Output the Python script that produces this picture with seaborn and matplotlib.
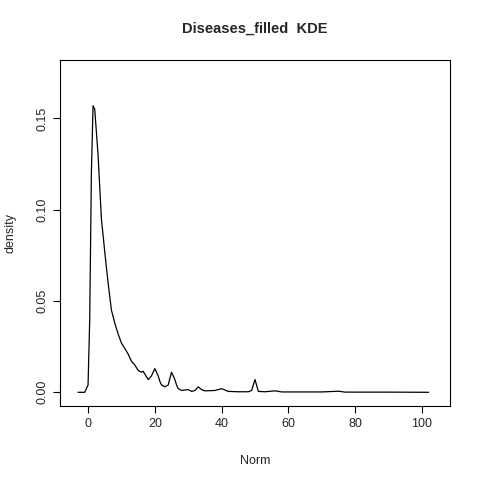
import numpy as np
import pandas as pd
import seaborn as sns
import matplotlib
matplotlib.use("Agg")
import matplotlib.pyplot as plt

# density curve
norm = [-3, -1, 0, 0.5, 1, 1.5, 2, 3, 4, 5, 6, 7, 8, 9, 10, 11, 12, 13, 14, 15, 16, 16.5, 17, 18, 19, 20,
        21, 21.5, 22, 23, 24, 25, 26, 26.5, 27, 28, 30, 31, 32, 33, 34, 35, 38, 40, 42, 45, 48, 49, 50,
        51, 53, 56, 58, 70, 75, 77, 90, 102]
density = [0, 0, 0.004, 0.04, 0.12, 0.157, 0.155, 0.13, 0.095, 0.077, 0.06, 0.045, 0.038, 0.032, 0.027,
           0.024, 0.021, 0.017, 0.015, 0.012, 0.011, 0.0115, 0.010, 0.007, 0.009, 0.013,
           0.009, 0.006, 0.004, 0.003, 0.004, 0.011, 0.007, 0.004, 0.002, 0.001, 0.0015, 0.0005, 0.001,
           0.003, 0.0015, 0.0008, 0.001, 0.002, 0.0005, 0.0003, 0.0003, 0.001, 0.007,
           0.0005, 0.0003, 0.0008, 0.0002, 0.0002, 0.0006, 0.0001, 0.0001, 0]
df = pd.DataFrame({"Norm": norm, "density": density})

sns.set_style("white")
plt.rcParams['font.family'] = ['Liberation Sans', 'DejaVu Sans']
fig = plt.figure(figsize=(4.8, 4.8), dpi=100)
ax = fig.add_axes([60/480, 74/480, 390/480, 346/480])
sns.lineplot(data=df, x="Norm", y="density", color="black", linewidth=0.9, ax=ax)
ax.set_xlim(-8.4, 108.4)
ax.set_ylim(-0.0075, 0.182)
ax.set_xticks([0, 20, 40, 60, 80, 100])
ax.set_yticks([0, 0.05, 0.10, 0.15])
ax.set_yticklabels(["0.00", "0.05", "0.10", "0.15"], rotation=90, va="center")
for s in ax.spines.values():
    s.set_color("black")
    s.set_linewidth(0.8)
ax.tick_params(axis="both", direction="out", length=5, width=0.8, color="black", labelsize=9, bottom=True, left=True)
ax.set_xlabel("Norm", fontsize=9, labelpad=18)
ax.set_ylabel("density", fontsize=9, labelpad=14)
ax.set_title("Diseases_filled  KDE", fontsize=10.5, fontweight="bold", pad=20)
fig.savefig("out.png", dpi=100)
